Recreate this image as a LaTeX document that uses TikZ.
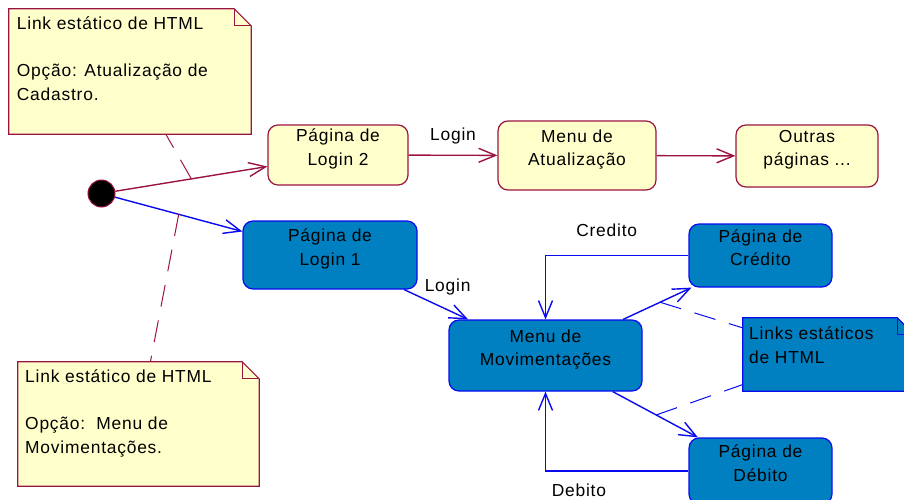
\documentclass[tikz,border=0pt]{standalone}
\usepackage{fontspec}
\setmainfont{Liberation Sans}[LetterSpace=4.5]
\usepackage{tikz}
\usetikzlibrary{arrows.meta,positioning,calc}
\definecolor{wine}{RGB}{155,20,65}
\definecolor{cream}{RGB}{255,255,204}
\definecolor{ocean}{RGB}{0,128,192}
\definecolor{navy}{RGB}{10,10,240}

\begin{document}
\begin{tikzpicture}[x=1pt,y=-1pt,
  font=\fontsize{17.4}{23.5}\selectfont,
  yb/.style={rounded corners=10pt, draw=wine, line width=1.2pt, fill=cream,
             align=center, inner sep=2pt, text depth=16pt},
  bb/.style={rounded corners=10pt, draw=navy, line width=1.2pt, fill=ocean,
             align=center, inner sep=2pt, text depth=16pt},
  nb/.style={inner sep=0pt},
  nt/.style={align=left, anchor=north west, inner sep=0pt},
  lb/.style={inner sep=2pt, text=black},
  tr/.style={-{Straight Barb[length=17pt,width=14pt]}, line width=1.4pt},
  an/.style={dash pattern=on 22pt off 14pt, line width=1pt}]
\useasboundingbox (0,0) rectangle (904,499);
\clip (0,0) rectangle (904,499);

% notes
\node[nb, minimum width=242pt, minimum height=125pt] (notetop) at (130,71.5) {};
\draw[wine, line width=1.2pt, fill=cream] (notetop.south west) |- ($(notetop.north east)+(-17,0)$)
  -- ($(notetop.north east)+(0,17)$) -- (notetop.south east) -- cycle;
\draw[wine, line width=1.2pt] ($(notetop.north east)+(-17,0)$) |- ($(notetop.north east)+(0,17)$);
\node[nt] (notetoptxt) at (16.7,16.5) {Link estático de HTML\\[23.5pt]Opção: Atualização de\\Cadastro.};

\node[nb, minimum width=241pt, minimum height=124pt] (notebot) at (138.5,424) {};
\draw[wine, line width=1.2pt, fill=cream] (notebot.south west) |- ($(notebot.north east)+(-17,0)$)
  -- ($(notebot.north east)+(0,17)$) -- (notebot.south east) -- cycle;
\draw[wine, line width=1.2pt] ($(notebot.north east)+(-17,0)$) |- ($(notebot.north east)+(0,17)$);
\node[nt] (notebottxt) at (25,369.5) {Link estático de HTML\\[23.5pt]Opção:\ \ Menu de\\Movimentações.};

\node[nb, minimum width=171pt, minimum height=73pt] (noteblue) at (828.5,354.5) {};
\draw[navy, line width=1.2pt, fill=ocean] (noteblue.south west) |- ($(noteblue.north east)+(-17,0)$)
  -- ($(noteblue.north east)+(0,17)$) -- (noteblue.south east) -- cycle;
\draw[navy, line width=1.2pt] ($(noteblue.north east)+(-17,0)$) |- ($(noteblue.north east)+(0,17)$);
\node[nt] (notebluetxt) at (749,326.5) {Links estáticos\\de HTML};

% states
\node[circle, fill=black, draw=wine, line width=1pt, minimum size=27pt, inner sep=0pt] (ini) at (101.5,193.5) {};
\node[yb, minimum width=140pt, minimum height=60pt] (login2) at (338,155) {Página de\\Login 2};
\node[yb, minimum width=158pt, minimum height=69pt] (menuatu) at (577,155.5) {Menu de\\Atualização};
\node[yb, minimum width=142pt, minimum height=62pt] (outras) at (807,156) {Outras\\páginas ...};
\node[bb, minimum width=174pt, minimum height=68pt] (login1) at (330,255) {Página de\\Login 1};
\node[bb, minimum width=193pt, minimum height=71pt] (menumov) at (545.5,355.5) {Menu de\\Movimentações};
\node[bb, minimum width=143pt, minimum height=63pt] (credito) at (760.5,255.5) {Página de\\Crédito};
\node[bb, minimum width=143pt, minimum height=66pt] (debito) at (760.5,471) {Página de\\Débito};

% transitions
\draw[tr, wine] (ini) -- coordinate[pos=0.5] (t1) (login2);
\draw[tr, navy] (ini) -- coordinate[pos=0.5] (t2) (login1);
\draw[tr, wine] (login2) -- node[lb, above=8pt] (lbllogin2) {Login} (menuatu);
\draw[tr, wine] (menuatu) -- (outras);
\draw[tr, navy] (login1) -- node[lb, pos=0.68, above=12pt] (lbllogin1) {Login} (menumov);
\draw[tr, navy] (menumov) -- coordinate[pos=0.54] (t3) (credito);
\draw[tr, navy] (menumov) -- coordinate[pos=0.51] (t4) (debito);
\draw[tr, navy] (credito.west) -| node[lb, pos=0.286, above=16.5pt] (lblcred) {Credito} (menumov.north);
\draw[tr, navy] (debito.west) -| node[lb, pos=0.383, below=10pt] (lbldeb) {Debito} (menumov.south);

% anchors
\draw[an, wine] (t1) -- (notetop);
\draw[an, wine] (t2) -- (notebot);
\draw[an, navy] (t3) -- (noteblue);
\draw[an, navy] (t4) -- (noteblue);
\end{tikzpicture}
\end{document}
